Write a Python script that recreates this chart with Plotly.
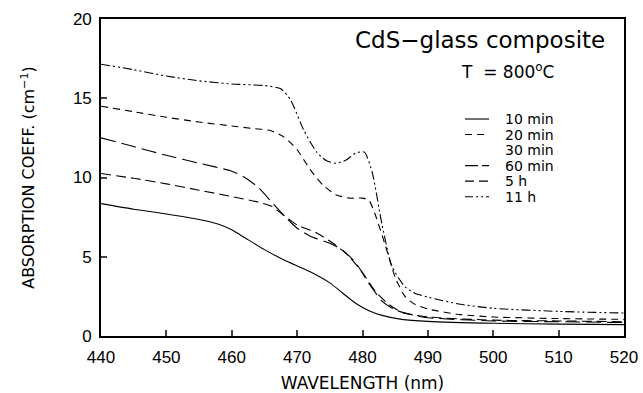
import plotly.graph_objects as go

# wavelength grids (nm) and absorption coefficient values (cm^-1)
wl_10min = [440, 445, 450, 455, 458, 460, 462, 465, 468, 472, 475, 477, 479, 481, 483, 486, 490, 500, 510, 520]
ac_10min = [8.35, 8.0, 7.7, 7.35, 7.05, 6.7, 6.2, 5.45, 4.8, 4.05, 3.35, 2.7, 2.05, 1.6, 1.3, 1.05, 0.92, 0.8, 0.75, 0.72]

wl_20min = [440, 445, 450, 455, 460, 463, 466, 468, 470, 472, 474, 476, 478, 480, 481, 482, 483.5, 485, 486.5, 488, 490, 495, 500, 510, 520]
ac_20min = [14.5, 14.15, 13.8, 13.5, 13.25, 13.1, 12.95, 12.55, 11.75, 10.5, 9.5, 8.9, 8.7, 8.7, 8.55, 7.6, 5.7, 3.7, 2.5, 2.0, 1.7, 1.35, 1.2, 1.1, 1.05]

wl_30min = []
ac_30min = []

wl_60min = [440, 445, 450, 455, 460, 462, 464, 466, 468, 470, 472, 475, 477, 479, 481, 483, 485, 488, 490, 500, 510, 520]
ac_60min = [12.5, 11.95, 11.4, 10.9, 10.4, 10.0, 9.4, 8.5, 7.6, 6.8, 6.3, 5.85, 5.4, 4.6, 3.3, 2.2, 1.65, 1.3, 1.15, 0.95, 0.9, 0.85]

wl_5h = [440, 445, 450, 455, 460, 464, 466, 468, 470, 473, 476, 478, 480, 482, 484, 486, 490, 500, 510, 520]
ac_5h = [10.25, 9.95, 9.6, 9.2, 8.8, 8.45, 8.2, 7.6, 7.0, 6.5, 5.7, 5.0, 4.0, 2.8, 2.0, 1.5, 1.2, 1.0, 0.95, 0.9]

wl_11h = [440, 445, 450, 455, 460, 465, 467.5, 469, 471, 473, 474.5, 476, 477.5, 479, 480.3, 481.5, 483, 484.5, 486.5, 488, 490, 495, 500, 510, 520]
ac_11h = [17.15, 16.8, 16.4, 16.1, 15.9, 15.8, 15.6, 14.9, 13.0, 11.6, 11.05, 10.9, 11.1, 11.55, 11.6, 10.3, 7.0, 4.4, 3.1, 2.7, 2.45, 2.0, 1.75, 1.55, 1.45]

series_names = ["10 min", "20 min", "30 min", "60 min", "5 h", "11 h"]
series_x = [wl_10min, wl_20min, wl_30min, wl_60min, wl_5h, wl_11h]
series_y = [ac_10min, ac_20min, ac_30min, ac_60min, ac_5h, ac_11h]
series_dash = ["solid", "7px,5px", None, "15px,6px", "10px,5px", "9px,3px,2px,3px,2px,3px"]
legend_dash = ["solid", "7px,5px", None, "13px,4px", "9px,5px", "8px,3px,2px,3px,2px,3px"]

x_ticks = [440, 450, 460, 470, 480, 490, 500, 510, 520]
y_ticks = [0, 5, 10, 15, 20]

font_main = "Liberation Sans, Arial, sans-serif"
font_note = "DejaVu Sans, sans-serif"

fig = go.Figure()
shapes = []
annotations = []
leg_y0, leg_step = 0.6845, 0.049
for i, (name, xs, ys, dash, ldash) in enumerate(zip(series_names, series_x, series_y, series_dash, legend_dash)):
    if xs:
        fig.add_trace(go.Scatter(
            x=xs, y=ys, name=name, mode="lines", showlegend=False,
            line=dict(color="black", width=1.1, dash=dash, shape="spline", smoothing=0.6),
        ))
    ly = leg_y0 - i * leg_step
    if ldash is not None:
        shapes.append(dict(type="line", xref="paper", yref="paper", x0=0.696, x1=0.742,
                           y0=ly, y1=ly, line=dict(color="black", width=1.1, dash=ldash)))
    annotations.append(dict(text=name, xref="paper", yref="paper", x=0.768, y=ly,
                            xanchor="left", yanchor="middle", showarrow=False,
                            font=dict(size=14, family=font_note)))

annotations += [
    dict(text="CdS\u2212glass composite", xref="paper", yref="paper", x=0.967, y=0.935,
         xanchor="right", yanchor="middle", showarrow=False, font=dict(size=23, family=font_note)),
    dict(text="T  = 800<sup>o</sup>C", xref="paper", yref="paper", x=0.87, y=0.835,
         xanchor="right", yanchor="middle", showarrow=False, font=dict(size=17, family=font_note)),
]

fig.update_layout(
    width=643, height=393,
    margin=dict(l=101, r=19, t=19, b=57),
    paper_bgcolor="white", plot_bgcolor="white",
    font=dict(family=font_main, color="black"),
    showlegend=False,
    shapes=shapes,
    annotations=annotations,
    xaxis=dict(
        range=[440, 520], tickvals=x_ticks, ticks="inside", ticklen=6, automargin=False,
        tickwidth=1.5, showline=True, linewidth=1.6, linecolor="black", mirror=True,
        showgrid=False, zeroline=False, tickfont=dict(size=17), ticklabelstandoff=5,
        title=dict(text="WAVELENGTH (nm)", font=dict(size=17, family=font_note), standoff=12),
    ),
    yaxis=dict(
        range=[0, 20], tickvals=y_ticks, ticks="inside", ticklen=6, automargin=False,
        tickwidth=1.5, showline=True, linewidth=1.6, linecolor="black", mirror=True,
        showgrid=False, zeroline=False, tickfont=dict(size=17), ticklabelstandoff=4,
        title=dict(text="ABSORPTION COEFF. (cm<sup>\u22121</sup>)", font=dict(size=16, family=font_note), standoff=34),
    ),
)

fig.write_html("out.html")
